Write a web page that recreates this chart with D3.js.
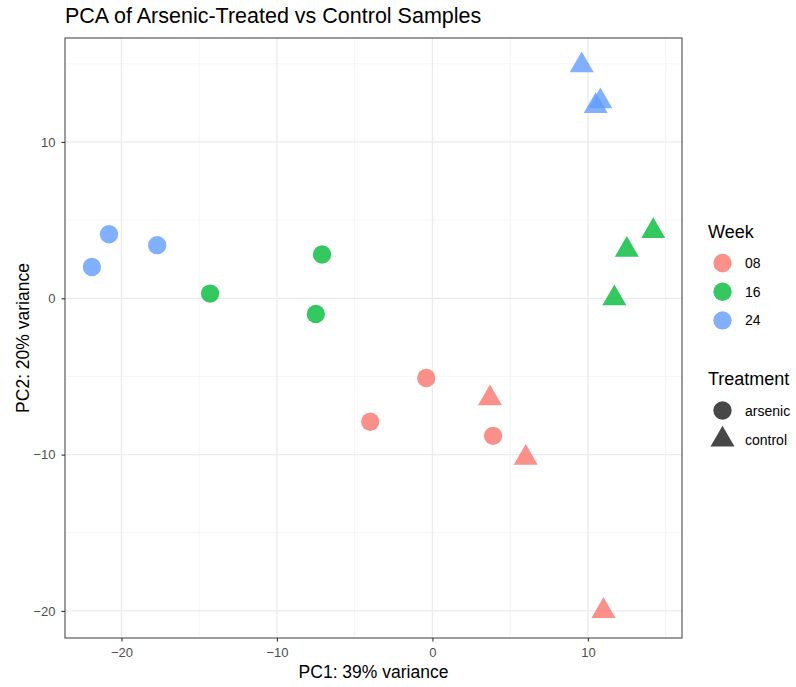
<!DOCTYPE html>
<html>
<head>
<meta charset="utf-8">
<script src="https://cdn.jsdelivr.net/npm/d3@7"></script>
<style>
  body { margin: 0; background: #fff; }
  svg { display: block; font-family: "Liberation Sans", Arial, sans-serif; }
</style>
</head>
<body>
<svg id="chart" width="796" height="687"></svg>
<script>
// Sample scores on the first two principal components
const samples = ["A08_1", "A08_2", "A08_3", "C08_1", "C08_2", "C08_3",
                 "A16_1", "A16_2", "A16_3", "C16_1", "C16_2", "C16_3",
                 "A24_1", "A24_2", "A24_3", "C24_1", "C24_2", "C24_3"];
const week      = ["08", "08", "08", "08", "08", "08",
                   "16", "16", "16", "16", "16", "16",
                   "24", "24", "24", "24", "24", "24"];
const treatment = ["arsenic", "arsenic", "arsenic", "control", "control", "control",
                   "arsenic", "arsenic", "arsenic", "control", "control", "control",
                   "arsenic", "arsenic", "arsenic", "control", "control", "control"];
const pc1 = [-0.4, -4.0, 3.9, 3.7, 6.0, 11.0,
             -14.3, -7.1, -7.5, 14.2, 12.5, 11.7,
             -21.9, -20.8, -17.7, 9.6, 10.8, 10.5];
const pc2 = [-5.1, -7.9, -8.8, -6.4, -10.2, -20.0,
             0.3, 2.8, -1.0, 4.3, 3.1, 0.0,
             2.0, 4.1, 3.4, 14.9, 12.6, 12.3];

const weekLevels = ["08", "16", "24"];
const weekColors = ["#F8766D", "#00BA38", "#619CFF"];
const treatLevels = ["arsenic", "control"];

const xTicks = [-20, -10, 0, 10];
const yTicks = [-20, -10, 0, 10];
const xMinor = [-15, -5, 5, 15];
const yMinor = [-15, -5, 5, 15];

const svg = d3.select("#chart");
const panel = { left: 65, right: 682, top: 38, bottom: 638 };

const x = d3.scaleLinear().domain([-23.63, 16.05]).range([panel.left, panel.right]);
const y = d3.scaleLinear().domain([-21.73, 16.65]).range([panel.bottom, panel.top]);
const color = d3.scaleOrdinal().domain(weekLevels).range(weekColors);
const shape = d3.scaleOrdinal().domain(treatLevels).range([d3.symbolCircle, d3.symbolTriangle]);
const shapeSize = d3.scaleOrdinal().domain(treatLevels).range([265, 250]);

// panel background and grid
svg.append("rect")
  .attr("x", panel.left).attr("y", panel.top)
  .attr("width", panel.right - panel.left).attr("height", panel.bottom - panel.top)
  .attr("fill", "#fff");

const grid = svg.append("g");
grid.selectAll(".xminor").data(xMinor).join("line")
  .attr("x1", d => x(d)).attr("x2", d => x(d))
  .attr("y1", panel.top).attr("y2", panel.bottom)
  .attr("stroke", "#F2F2F2").attr("stroke-width", 0.8);
grid.selectAll(".yminor").data(yMinor).join("line")
  .attr("y1", d => y(d)).attr("y2", d => y(d))
  .attr("x1", panel.left).attr("x2", panel.right)
  .attr("stroke", "#F2F2F2").attr("stroke-width", 0.8);
grid.selectAll(".xmajor").data(xTicks).join("line")
  .attr("x1", d => x(d)).attr("x2", d => x(d))
  .attr("y1", panel.top).attr("y2", panel.bottom)
  .attr("stroke", "#EBEBEB").attr("stroke-width", 1.3);
grid.selectAll(".ymajor").data(yTicks).join("line")
  .attr("y1", d => y(d)).attr("y2", d => y(d))
  .attr("x1", panel.left).attr("x2", panel.right)
  .attr("stroke", "#EBEBEB").attr("stroke-width", 1.3);

// points
const rows = samples.map((s, i) => ({ id: s, week: week[i], treatment: treatment[i], pc1: pc1[i], pc2: pc2[i] }));
svg.append("g").selectAll("path").data(rows).join("path")
  .attr("transform", d => `translate(${x(d.pc1)},${y(d.pc2)})`)
  .attr("d", d => d3.symbol().type(shape(d.treatment)).size(shapeSize(d.treatment))())
  .attr("fill", d => color(d.week))
  .attr("fill-opacity", 0.8);

// panel border
svg.append("rect")
  .attr("x", panel.left).attr("y", panel.top)
  .attr("width", panel.right - panel.left).attr("height", panel.bottom - panel.top)
  .attr("fill", "none").attr("stroke", "#4D4D4D").attr("stroke-width", 1.1);

// axes
const xAxis = svg.append("g")
  .attr("transform", `translate(0,${panel.bottom})`)
  .call(d3.axisBottom(x).tickValues(xTicks).tickSize(3.5).tickPadding(4).tickFormat(d3.format("d")));
const yAxis = svg.append("g")
  .attr("transform", `translate(${panel.left},0)`)
  .call(d3.axisLeft(y).tickValues(yTicks).tickSize(3.5).tickPadding(6).tickFormat(d3.format("d")));
[xAxis, yAxis].forEach(a => {
  a.select(".domain").remove();
  a.selectAll(".tick line").attr("stroke", "#333").attr("stroke-width", 1.1);
  a.selectAll(".tick text").attr("fill", "#4D4D4D").attr("font-size", 13)
    .attr("font-family", "Liberation Sans, Arial, sans-serif");
});
xAxis.selectAll(".tick text").attr("dy", "0.9em");

// titles
svg.append("text").attr("x", 65).attr("y", 23)
  .attr("font-size", 21.5).attr("fill", "#000")
  .text("PCA of Arsenic-Treated vs Control Samples");
svg.append("text").attr("x", (panel.left + panel.right) / 2).attr("y", 678)
  .attr("text-anchor", "middle").attr("font-size", 17.5).attr("fill", "#000")
  .text("PC1: 39% variance");
svg.append("text")
  .attr("transform", `translate(29,${(panel.top + panel.bottom) / 2}) rotate(-90)`)
  .attr("text-anchor", "middle").attr("font-size", 17.5).attr("fill", "#000")
  .text("PC2: 20% variance");

// legends
const lg = svg.append("g");
lg.append("text").attr("x", 708).attr("y", 238).attr("font-size", 18).text("Week");
weekLevels.forEach((w, i) => {
  const cy = 263 + i * 28.7;
  lg.append("path")
    .attr("transform", `translate(722.5,${cy})`)
    .attr("d", d3.symbol().type(d3.symbolCircle).size(265)())
    .attr("fill", color(w)).attr("fill-opacity", 0.8);
  lg.append("text").attr("x", 745).attr("y", cy).attr("dy", "0.36em")
    .attr("font-size", 14).text(w);
});
lg.append("text").attr("x", 708).attr("y", 385).attr("font-size", 18).text("Treatment");
treatLevels.forEach((t, i) => {
  const cy = 410.5 + i * 29;
  lg.append("path")
    .attr("transform", `translate(722.5,${cy + (i === 1 ? 0 : 0)})`)
    .attr("d", d3.symbol().type(shape(t)).size(shapeSize(t))())
    .attr("fill", "#333").attr("fill-opacity", 0.9);
  lg.append("text").attr("x", 745).attr("y", cy).attr("dy", "0.36em")
    .attr("font-size", 14).text(t);
});
</script>
</body>
</html>
